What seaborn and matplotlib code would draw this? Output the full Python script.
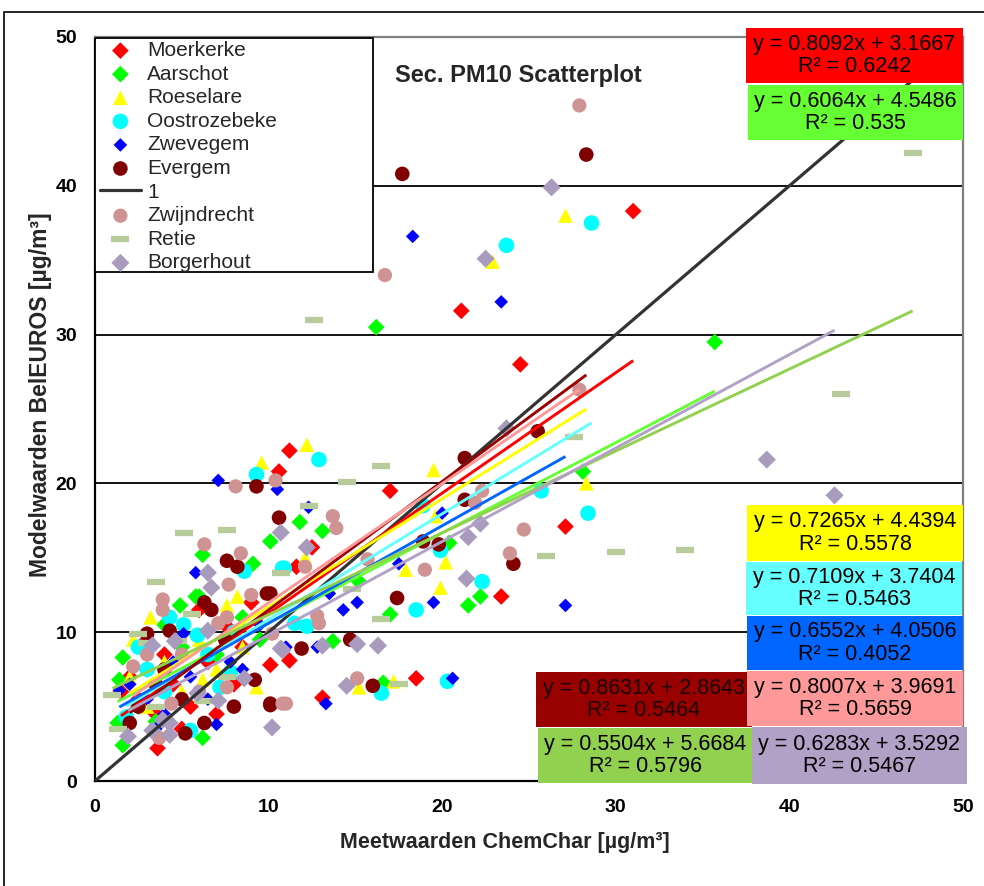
import matplotlib
matplotlib.use("Agg")
import matplotlib.pyplot as plt
from matplotlib.patches import Rectangle
import seaborn as sns
import numpy as np
import pandas as pd

# ---- data ----
moerkerke_x = [31.0, 21.1, 24.5, 27.1, 23.4, 17.0, 11.2, 10.6, 12.5, 11.6, 18.5, 13.1, 11.2, 10.1, 3.6,
               2.0, 3.0, 4.5, 5.5, 6.5, 7.5, 8.5, 9.0, 5.0, 3.5, 6.0, 4.0, 2.5, 8.0, 7.0, 1.5]
moerkerke_y = [38.3, 31.6, 28.0, 17.1, 12.4, 19.5, 22.2, 20.8, 15.7, 14.4, 6.9, 5.6, 8.1, 7.8, 2.2,
               7.0, 9.5, 6.5, 5.0, 8.0, 10.5, 9.0, 12.0, 3.5, 4.5, 11.5, 8.5, 5.5, 6.5, 4.5, 6.0]

aarschot_x = [35.7, 28.1, 16.2, 11.8, 13.1, 10.1, 21.5, 22.2, 17.0, 15.2, 20.4, 13.7, 16.6, 6.2, 9.1, 5.8,
              4.9, 6.0, 1.4, 1.3, 1.6, 6.2, 1.6, 3.0, 4.0, 5.0, 7.0, 8.5, 2.5, 3.5, 9.5]
aarschot_y = [29.5, 20.8, 30.5, 17.4, 16.8, 16.1, 11.8, 12.4, 11.2, 13.4, 16.0, 9.4, 6.6, 15.2, 14.6, 12.4,
              11.8, 12.4, 6.8, 3.9, 2.4, 2.9, 8.3, 7.5, 10.5, 9.0, 8.5, 11.0, 5.0, 4.0, 9.5]

roeselare_x = [27.1, 22.9, 28.3, 19.5, 12.2, 19.6, 20.2, 17.9, 19.9, 17.2, 15.2, 12.1, 9.6, 8.2, 7.6, 3.2,
               2.2, 6.2, 9.3, 4.0, 5.0, 3.0, 6.0, 7.0, 2.0, 8.5]
roeselare_y = [38.0, 34.9, 20.0, 20.9, 22.6, 17.8, 14.7, 14.2, 13.0, 6.7, 6.3, 15.0, 21.4, 12.4, 11.8, 11.0,
               9.5, 6.8, 6.3, 8.0, 6.0, 5.0, 9.5, 7.5, 7.0, 9.0]

oostrozebeke_x = [28.6, 23.7, 28.4, 25.7, 22.3, 18.5, 20.3, 16.5, 12.9, 10.9, 19.9, 18.9, 11.5, 12.2, 9.3,
                  8.6, 10.8, 4.3, 5.1, 5.9, 7.8, 7.2, 5.5, 1.8, 3.0, 4.0, 6.5, 8.0, 2.5]
oostrozebeke_y = [37.5, 36.0, 18.0, 19.5, 13.4, 11.5, 6.7, 5.9, 21.6, 14.3, 15.5, 18.5, 10.6, 10.4, 20.6,
                  14.1, 14.3, 11.0, 10.5, 9.8, 7.3, 6.3, 3.4, 4.3, 7.5, 6.0, 8.5, 10.0, 9.0]

zwevegem_x = [18.3, 23.4, 27.1, 20.6, 13.3, 10.5, 12.3, 20.0, 17.5, 19.5, 15.1, 14.3, 13.5, 12.8, 7.1, 5.8,
              7.0, 7.8, 1.4, 5.1, 3.0, 4.0, 5.5, 6.5, 8.5, 9.5, 2.0, 4.5, 3.5, 11.0]
zwevegem_y = [36.6, 32.2, 11.8, 6.9, 5.2, 19.6, 18.4, 18.0, 14.6, 12.0, 12.0, 11.5, 12.6, 9.0, 20.2, 14.0,
              3.8, 8.0, 6.1, 9.9, 5.5, 4.5, 7.0, 5.5, 7.5, 10.5, 6.5, 8.0, 3.5, 9.0]

evergem_x = [17.7, 28.3, 21.3, 25.5, 24.1, 21.3, 17.4, 18.9, 19.8, 10.6, 11.9, 14.7, 16.0, 10.1, 10.1, 7.6,
             8.2, 9.3, 9.9, 6.3, 6.7, 3.0, 4.3, 9.2, 10.1, 6.3, 5.2, 2.0, 2.5, 4.0, 5.0, 7.5, 8.0, 3.5]
evergem_y = [40.8, 42.1, 21.7, 23.5, 14.6, 18.9, 12.3, 16.1, 15.9, 17.7, 8.9, 9.5, 6.4, 12.6, 5.2, 14.8,
             14.4, 19.8, 12.6, 12.0, 11.5, 9.9, 10.1, 6.8, 5.1, 3.9, 3.2, 3.9, 5.0, 7.5, 5.5, 9.5, 5.0, 6.5]

zwijndrecht_x = [27.9, 16.7, 27.9, 24.7, 23.9, 19.0, 22.3, 21.9, 13.7, 13.9, 12.1, 15.7, 15.1, 11.0, 12.8,
                 12.9, 10.4, 8.1, 6.3, 8.4, 7.7, 3.9, 3.9, 7.6, 7.1, 2.2, 4.4, 3.7, 7.6, 10.8, 10.2,
                 5.0, 6.0, 3.0, 9.0]
zwijndrecht_y = [45.4, 34.0, 26.3, 16.9, 15.3, 14.2, 19.5, 18.7, 17.8, 17.0, 14.4, 14.9, 6.9, 5.2, 11.1,
                 10.6, 20.2, 19.8, 15.9, 15.3, 13.2, 12.2, 11.5, 11.0, 10.6, 7.7, 5.2, 2.9, 6.3, 5.2, 9.9,
                 8.5, 6.0, 8.5, 12.5]

retie_x = [47.1, 43.0, 26.0, 30.0, 34.0, 27.6, 12.6, 14.5, 5.1, 7.6, 3.5, 10.7, 12.3, 14.8, 5.6, 2.5,
           3.0, 4.8, 1.0, 1.3, 3.5, 7.6, 6.2, 16.5, 16.5, 17.5]
retie_y = [42.2, 26.0, 15.1, 15.4, 15.5, 23.1, 31.0, 20.1, 16.7, 16.9, 13.4, 14.0, 18.5, 12.9, 11.2, 9.9,
           9.3, 9.4, 5.8, 3.5, 5.0, 7.0, 5.4, 21.2, 10.9, 6.5]

borgerhout_x = [26.3, 22.5, 38.7, 42.6, 23.7, 22.2, 21.5, 21.4, 12.2, 10.7, 15.1, 16.3, 13.1, 10.7, 14.5,
                6.5, 6.7, 6.5, 4.6, 3.3, 10.8, 8.6, 5.9, 10.2, 3.9, 4.3, 3.3, 1.9, 4.3, 7.1]
borgerhout_y = [39.9, 35.1, 21.6, 19.2, 23.7, 17.3, 16.4, 13.6, 15.7, 16.7, 9.2, 9.1, 9.1, 8.9, 6.4,
                14.0, 13.0, 10.1, 9.4, 9.1, 8.8, 6.9, 5.9, 3.6, 4.1, 3.9, 3.4, 3.0, 3.1, 5.4]

# 1:1 reference line
ref_x = [0, 50]
ref_y = [0, 50]

site_names = ["Moerkerke", "Aarschot", "Roeselare", "Oostrozebeke", "Zwevegem", "Evergem",
              "Zwijndrecht", "Retie", "Borgerhout"]
site_x = [moerkerke_x, aarschot_x, roeselare_x, oostrozebeke_x, zwevegem_x, evergem_x,
          zwijndrecht_x, retie_x, borgerhout_x]
site_y = [moerkerke_y, aarschot_y, roeselare_y, oostrozebeke_y, zwevegem_y, evergem_y,
          zwijndrecht_y, retie_y, borgerhout_y]

# trend line coefficients as printed in the chart
slopes = [0.8092, 0.6064, 0.7265, 0.7109, 0.6552, 0.8631, 0.8007, 0.5504, 0.6283]
intercepts = [3.1667, 4.5486, 4.4394, 3.7404, 4.0506, 2.8643, 3.9691, 5.6684, 3.5292]
r2_values = [0.6242, 0.535, 0.5578, 0.5463, 0.4052, 0.5464, 0.5659, 0.5796, 0.5467]

# ---- styles ----
marker_color = {"Moerkerke": "#ff0000", "Aarschot": "#00ff00", "Roeselare": "#ffff00",
                "Oostrozebeke": "#00ffff", "Zwevegem": "#0000ff", "Evergem": "#800000",
                "Zwijndrecht": "#d09393", "Retie": "#b7cc9a", "Borgerhout": "#a99bbd"}
marker_shape = {"Moerkerke": "D", "Aarschot": "D", "Roeselare": "^", "Oostrozebeke": "o",
                "Zwevegem": "D", "Evergem": "o", "Zwijndrecht": "o", "Retie": "_", "Borgerhout": "D"}
marker_size = {"Moerkerke": 72, "Aarschot": 72, "Roeselare": 110, "Oostrozebeke": 125,
               "Zwevegem": 48, "Evergem": 110, "Zwijndrecht": 105, "Retie": 150, "Borgerhout": 85}
trend_color = {"Moerkerke": "#ff0000", "Aarschot": "#66ff33", "Roeselare": "#ffff00",
               "Oostrozebeke": "#66ffff", "Zwevegem": "#0066ff", "Evergem": "#990000",
               "Zwijndrecht": "#ff9999", "Retie": "#92d050", "Borgerhout": "#b2a1c7"}
# label boxes in pixels: left, top, right, bottom
box_px = {"Moerkerke": (746, 28, 963, 83), "Aarschot": (748, 85, 963, 140),
          "Roeselare": (747, 505, 963, 561), "Oostrozebeke": (746, 562, 962, 615),
          "Zwevegem": (747, 616, 963, 670), "Zwijndrecht": (747, 671, 963, 726),
          "Borgerhout": (752, 727, 967, 784), "Evergem": (536, 672, 752, 727),
          "Retie": (538, 728, 753, 783)}
text_color = {"Evergem": "#1a0000"}

frames = []
for name, xs, ys in zip(site_names, site_x, site_y):
    frames.append(pd.DataFrame({"site": name, "x": xs, "y": ys}))
df = pd.concat(frames, ignore_index=True)

sns.set_style("white")
plt.rcParams["font.family"] = ["Liberation Sans", "DejaVu Sans"]

W, H = 984, 886
AX_L, AX_T, AX_R, AX_B = 95, 37, 963, 781
fig = plt.figure(figsize=(W / 100, H / 100), dpi=100)
ax = fig.add_axes([AX_L / W, 1 - AX_B / H, (AX_R - AX_L) / W, (AX_B - AX_T) / H])


def ax_frac(px, py):
    return (px - AX_L) / (AX_R - AX_L), (AX_B - py) / (AX_B - AX_T)


handles = {}
for name in site_names:
    sub = df[df["site"] == name]
    kw = dict(linewidth=0, edgecolor="none")
    if name == "Retie":
        kw = dict(linewidth=4.5)
    sns.scatterplot(data=sub, x="x", y="y", marker=marker_shape[name], color=marker_color[name],
                    s=marker_size[name], ax=ax, label=name, zorder=3, legend=False, **kw)
    handles[name] = ax.collections[-1]

line1, = ax.plot(ref_x, ref_y, color="#333333", lw=2.3, zorder=4, label="1")

for name, a, b in zip(site_names, slopes, intercepts):
    xs = np.array([min(df.loc[df.site == name, "x"]), max(df.loc[df.site == name, "x"])])
    ax.plot(xs, a * xs + b, color=trend_color[name], lw=2.1, zorder=4, solid_capstyle="butt")

ax.set_xlim(0, 50)
ax.set_ylim(0, 50)
ax.set_xticks(range(0, 51, 10))
ax.set_yticks(range(0, 51, 10))
for v in range(10, 50, 10):
    ax.axhline(v, color="black", lw=1.3, zorder=1)

tick_font = dict(family=["Liberation Sans", "DejaVu Sans"], weight="bold", size=14)
ax.set_xticklabels([str(v) for v in range(0, 51, 10)], fontdict=tick_font)
ax.set_yticklabels([str(v) for v in range(0, 51, 10)], fontdict=tick_font)
ax.tick_params(direction="out", length=5, width=1, colors="black", pad=8)
ax.set_xlabel("Meetwaarden ChemChar [µg/m³]", fontdict=dict(tick_font, size=15.5))
ax.set_ylabel("Modelwaarden BelEUROS [µg/m³]", fontdict=dict(tick_font, size=16.5))
ax.xaxis.set_label_coords(*ax_frac(505, 832))
ax.yaxis.set_label_coords(*ax_frac(52, 395))

for side in ["left", "bottom"]:
    ax.spines[side].set_color("black")
    ax.spines[side].set_linewidth(1.6)
for side in ["top", "right"]:
    ax.spines[side].set_color("#808080")
    ax.spines[side].set_linewidth(1.6)

# legend, with its own frame the size of the original box
fl, fb = ax_frac(95, 272)
fr, ft = ax_frac(373, 38)
ax.add_patch(Rectangle((fl, fb), fr - fl, ft - fb, transform=ax.transAxes, facecolor="white",
                       edgecolor="black", lw=1.3, zorder=5))
order = ["Moerkerke", "Aarschot", "Roeselare", "Oostrozebeke", "Zwevegem", "Evergem", "1",
         "Zwijndrecht", "Retie", "Borgerhout"]
leg_handles = [line1 if n == "1" else handles[n] for n in order]
leg = ax.legend(leg_handles, order, loc="upper left", bbox_to_anchor=ax_frac(98, 39),
                borderaxespad=0, fontsize=15, labelspacing=0.22, handletextpad=0.3,
                handlelength=1.95, borderpad=0.1, frameon=False, scatterpoints=1)
leg.set_zorder(6)

ax.text(*ax_frac(395, 76), "Sec. PM10 Scatterplot", transform=ax.transAxes, fontsize=17,
        fontweight="bold", va="center", ha="left", zorder=6)

for name, a, b, r2 in zip(site_names, slopes, intercepts, r2_values):
    l, t, r, bt = box_px[name]
    fig.patches.append(Rectangle((l / W, 1 - bt / H), (r - l) / W, (bt - t) / H,
                                 transform=fig.transFigure, facecolor=trend_color[name],
                                 edgecolor="none", zorder=7))
    txt = f"y = {a:.4f}x + {b:.4f}\nR² = {r2:g}"
    fig.text((l + r) / 2 / W, 1 - (t + bt) / 2 / H, txt, ha="center", va="center",
             fontsize=15.5, linespacing=1.1, color=text_color.get(name, "black"), zorder=8)

# outer chart frame
fig.patches.append(Rectangle((4 / W, -0.01), 1.0, 1 - 12 / H + 0.01, transform=fig.transFigure,
                             facecolor="none", edgecolor="black", lw=1.2, zorder=0))

fig.savefig("out.png", dpi=100)
